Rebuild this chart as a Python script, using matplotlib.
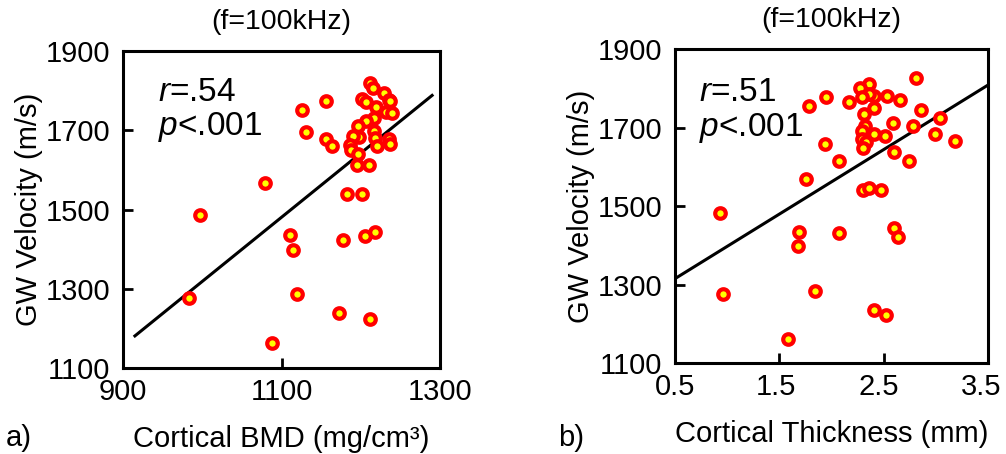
import matplotlib
matplotlib.use("Agg")
import matplotlib.pyplot as plt
from matplotlib.transforms import ScaledTranslation

plt.rcParams['font.family'] = ['Liberation Sans', 'DejaVu Sans']
plt.rcParams['mathtext.fontset'] = 'custom'
plt.rcParams['mathtext.rm'] = 'Liberation Sans'
plt.rcParams['mathtext.it'] = 'Liberation Sans:italic'

# GW velocity vs cortical BMD (mg/cm3)
bmd = [1212, 1215, 1229, 1235, 1237, 1202, 1206, 1219, 1232, 1240,
       1217, 1207, 1196, 1217, 1198, 1190, 1218, 1236, 1237, 1221,
       1187, 1188, 1197, 1195, 1211, 1156, 1126, 1131, 1156, 1164,
       1079, 1182, 1201, 997, 1111, 1115, 1178, 1205, 1218, 983,
       1119, 1172, 1212, 1088]
vel_bmd = [1819, 1807, 1794, 1776, 1773, 1779, 1771, 1758, 1745, 1744,
           1732, 1723, 1710, 1698, 1682, 1685, 1680, 1679, 1666, 1661,
           1664, 1649, 1639, 1612, 1612, 1773, 1752, 1695, 1679, 1660,
           1568, 1538, 1540, 1485, 1435, 1399, 1424, 1433, 1443, 1277,
           1286, 1238, 1224, 1164]
fit_bmd_x = [915, 1290]
fit_bmd_y = [1181, 1788]

# GW velocity vs cortical thickness (mm)
thick = [2.81, 2.36, 2.27, 2.41, 2.36, 2.29, 2.53, 2.65, 1.95, 2.17,
         1.78, 2.41, 2.86, 2.31, 3.04, 2.59, 2.32, 2.78, 2.29, 2.41,
         2.51, 2.99, 3.18, 2.29, 2.33, 2.30, 1.94, 2.60, 2.74, 2.07,
         1.75, 2.30, 2.36, 2.47, 0.93, 1.69, 1.68, 2.07, 2.60, 2.64,
         0.96, 1.84, 2.41, 2.52, 1.58]
vel_thick = [1825, 1812, 1800, 1781, 1785, 1779, 1781, 1770, 1777, 1764,
             1755, 1749, 1745, 1734, 1724, 1711, 1703, 1703, 1691, 1683,
             1679, 1683, 1666, 1670, 1662, 1649, 1659, 1638, 1615, 1614,
             1570, 1540, 1546, 1540, 1483, 1434, 1398, 1432, 1445, 1422,
             1277, 1283, 1234, 1222, 1160]
fit_thick_x = [0.5, 3.52]
fit_thick_y = [1315, 1812]

yticks = [1100, 1300, 1500, 1700, 1900]

fig = plt.figure(figsize=(10.06, 4.54), dpi=100)
ax1 = fig.add_axes([0.1223, 0.1894, 0.3151, 0.6982])
ax2 = fig.add_axes([0.6710, 0.2004, 0.3114, 0.6916])


def style(ax, x, y, fx, fy, xlim, xticks, xlabel, r_txt, tx, ty):
    ax.plot(fx, fy, color='black', lw=2.2, zorder=2)
    ax.plot(x, y, 'o', ms=7.6, mfc='#ffff00', mec='#ff0000', mew=3.0,
            zorder=3, clip_on=False)
    ax.set_xlim(*xlim)
    ax.set_ylim(1100, 1900)
    ax.set_xticks(xticks)
    ax.set_yticks(yticks)
    ax.tick_params(direction='in', length=7, width=2, labelsize=21,
                   top=False, right=False)
    ax.tick_params(axis='y', pad=9)
    ax.tick_params(axis='x', pad=7)
    for s in ax.spines.values():
        s.set_linewidth(2.2)
    ax.set_xlabel(xlabel, fontsize=21, labelpad=14)
    ax.set_ylabel('GW Velocity (m/s)', fontsize=21, labelpad=2)
    ax.set_title('(f=100kHz)', fontsize=20.5, pad=16)
    ax.text(tx, ty, r'$\it{r}$=' + r_txt, transform=ax.transAxes,
            fontsize=24, va='center')
    ax.text(tx, ty - 0.11, r'$\it{p}$<.001', transform=ax.transAxes,
            fontsize=24, va='center')


style(ax1, bmd, vel_bmd, fit_bmd_x, fit_bmd_y, (900, 1300),
      [900, 1100, 1300], 'Cortical BMD (mg/cm³)', '.54', 0.11, 0.87)
style(ax2, thick, vel_thick, fit_thick_x, fit_thick_y, (0.5, 3.5),
      [0.5, 1.5, 2.5, 3.5], 'Cortical Thickness (mm)', '.51', 0.075, 0.86)

# nudge the right-hand thickness labels so the last one stays on the canvas
for lab, dx in zip(ax2.get_xticklabels(), [0, -4, -5, -7]):
    lab.set_transform(lab.get_transform()
                      + ScaledTranslation(dx / 100, 0, fig.dpi_scale_trans))

fig.text(0.006, 0.036, 'a)', fontsize=21, va='center')
fig.text(0.555, 0.036, 'b)', fontsize=21, va='center')

fig.savefig('out.png', dpi=100)
